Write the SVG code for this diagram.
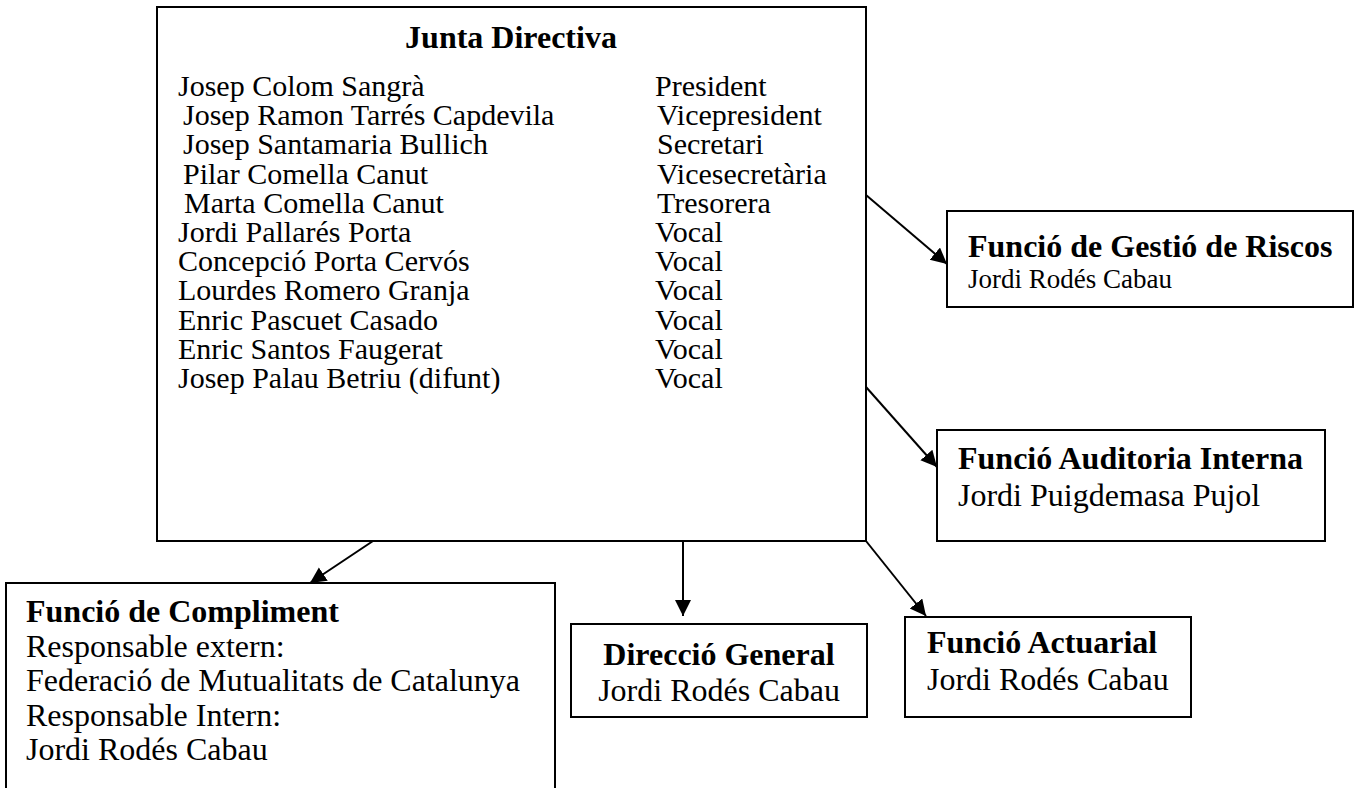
<svg xmlns="http://www.w3.org/2000/svg" width="1360" height="788" viewBox="0 0 1360 788">
<style>
.box{fill:#fff;stroke:#000;stroke-width:2}
text{font-family:"Liberation Serif","Times New Roman",serif;font-size:32px;fill:#000}
.b{font-weight:bold}
.c{text-anchor:middle}
.l{font-size:30px}
.s{font-size:27px}
.con{stroke:#000;stroke-width:2;fill:none;marker-end:url(#ah)}
</style>
<defs>
<marker id="ah" markerUnits="userSpaceOnUse" markerWidth="18" markerHeight="18" refX="16" refY="8" orient="auto">
<path d="M0,0 L16,8 L0,16 z" fill="#000"/>
</marker>
</defs>
<rect width="1360" height="788" fill="#fff"/>
<g id="junta">
<rect class="box" x="157" y="7" width="709" height="534"/>
<text class="b c" x="511" y="48">Junta Directiva</text>
<text class="l" x="178" y="96">Josep Colom Sangrà</text><text class="l" x="655" y="96">President</text>
<text class="l" x="183" y="125">Josep Ramon Tarrés Capdevila</text><text class="l" x="657" y="125">Vicepresident</text>
<text class="l" x="183" y="154">Josep Santamaria Bullich</text><text class="l" x="657" y="154">Secretari</text>
<text class="l" x="183" y="184">Pilar Comella Canut</text><text class="l" x="657" y="184">Vicesecretària</text>
<text class="l" x="184" y="213">Marta Comella Canut</text><text class="l" x="657" y="213">Tresorera</text>
<text class="l" x="178" y="242">Jordi Pallarés Porta</text><text class="l" x="655" y="242">Vocal</text>
<text class="l" x="178" y="271">Concepció Porta Cervós</text><text class="l" x="655" y="271">Vocal</text>
<text class="l" x="178" y="300">Lourdes Romero Granja</text><text class="l" x="655" y="300">Vocal</text>
<text class="l" x="178" y="330">Enric Pascuet Casado</text><text class="l" x="655" y="330">Vocal</text>
<text class="l" x="178" y="359">Enric Santos Faugerat</text><text class="l" x="655" y="359">Vocal</text>
<text class="l" x="178" y="388">Josep Palau Betriu (difunt)</text><text class="l" x="655" y="388">Vocal</text>
</g>
<g id="riscos">
<rect class="box" x="947" y="211" width="406" height="96"/>
<text class="b" x="968" y="257">Funció de Gestió de Riscos</text>
<text class="s" x="968" y="288">Jordi Rodés Cabau</text>
</g>
<g id="auditoria">
<rect class="box" x="937" y="430" width="388" height="111"/>
<text class="b" x="958" y="469">Funció Auditoria Interna</text>
<text x="958" y="506">Jordi Puigdemasa Pujol</text>
</g>
<g id="compliment">
<rect class="box" x="6" y="583" width="549" height="220"/>
<text class="b" x="26" y="622">Funció de Compliment</text>
<text x="26" y="657">Responsable extern:</text>
<text x="26" y="691">Federació de Mutualitats de Catalunya</text>
<text x="26" y="726">Responsable Intern:</text>
<text x="26" y="760">Jordi Rodés Cabau</text>
</g>
<g id="direccio">
<rect class="box" x="571" y="624" width="296" height="93"/>
<text class="b c" x="719" y="665">Direcció General</text>
<text class="c" x="719" y="701">Jordi Rodés Cabau</text>
</g>
<g id="actuarial">
<rect class="box" x="905" y="617" width="286" height="100"/>
<text class="b" x="927" y="653">Funció Actuarial</text>
<text x="927" y="690">Jordi Rodés Cabau</text>
</g>
<g id="connectors">
<line class="con" x1="866" y1="195" x2="947" y2="264"/>
<line class="con" x1="866" y1="387" x2="937" y2="467"/>
<line class="con" x1="373" y1="541" x2="310" y2="583"/>
<line class="con" x1="683" y1="541" x2="683" y2="616"/>
<line class="con" x1="866" y1="541" x2="926" y2="616"/>
</g>
</svg>
